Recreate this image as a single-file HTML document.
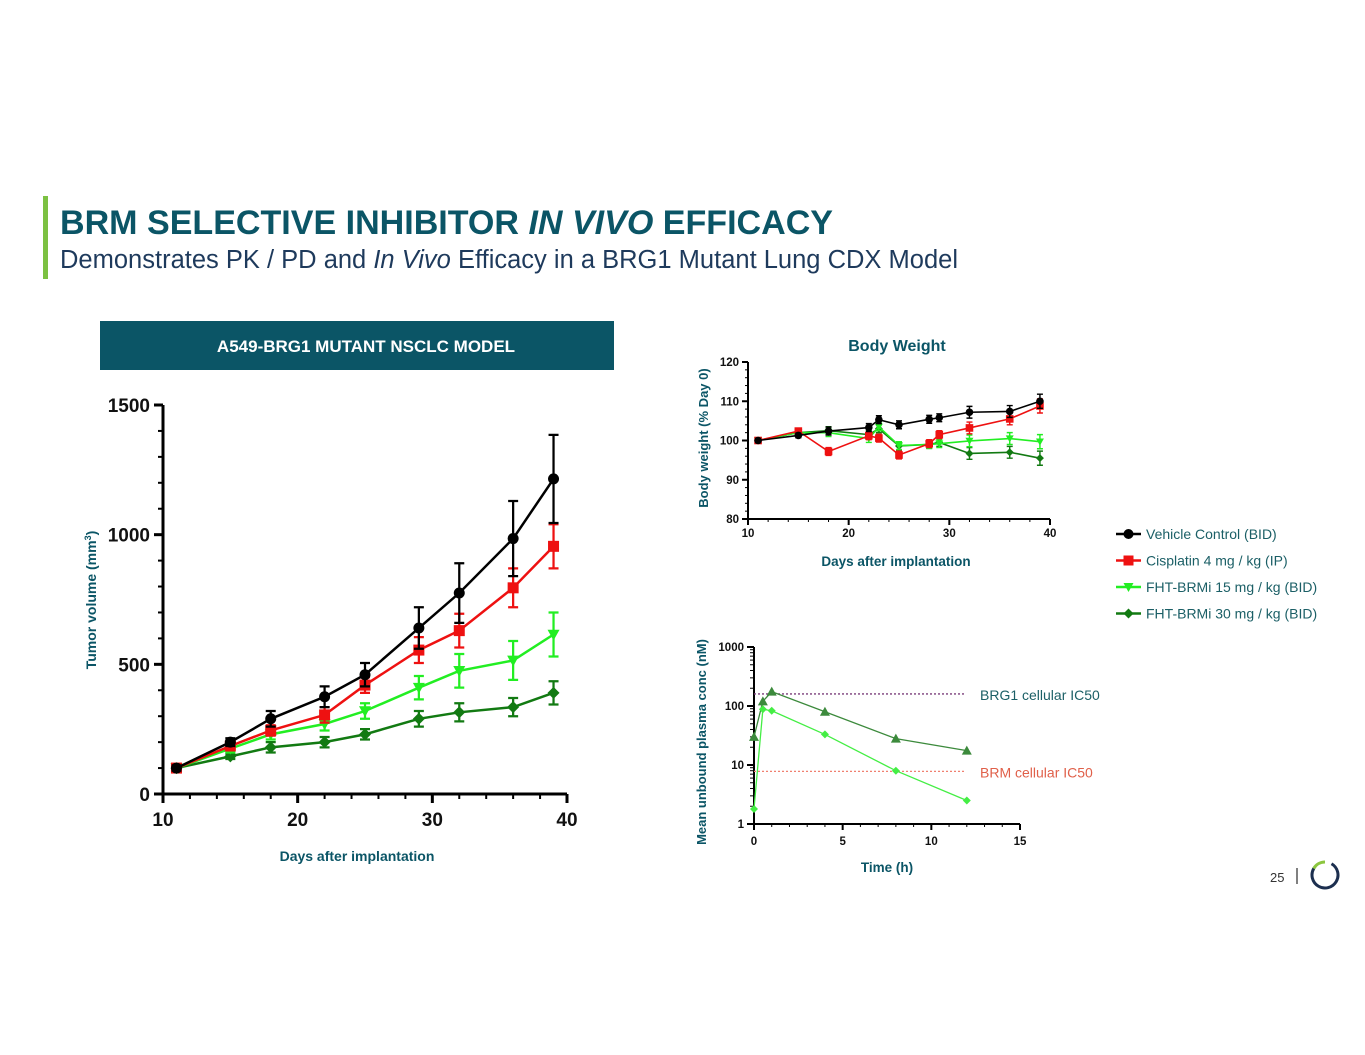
<!DOCTYPE html>
<html><head><meta charset="utf-8">
<style>
html,body{margin:0;padding:0;background:#fff;width:1365px;height:1055px;overflow:hidden;font-family:"Liberation Sans",sans-serif}
</style></head>
<body>
<svg id="s" width="1365" height="1055" xmlns="http://www.w3.org/2000/svg" font-family="Liberation Sans, sans-serif">
<rect x="43" y="196" width="5" height="83" fill="#7cc142"/>
<text x="60" y="234" font-size="34" font-weight="bold" fill="#0b5566" textLength="773" lengthAdjust="spacingAndGlyphs">BRM SELECTIVE INHIBITOR <tspan font-style="italic">IN VIVO</tspan> EFFICACY</text>
<text x="60" y="268" font-size="25.5" fill="#1e3a5c" textLength="898" lengthAdjust="spacingAndGlyphs">Demonstrates PK / PD and <tspan font-style="italic">In Vivo</tspan> Efficacy in a BRG1 Mutant Lung CDX Model</text>
<rect x="100" y="321" width="514" height="49" fill="#0b5566"/>
<text x="366" y="352" font-size="17" font-weight="bold" fill="#fff" text-anchor="middle">A549-BRG1 MUTANT NSCLC MODEL</text>
<g id="main"></g>
<g id="bw"></g>
<g id="pk"></g>
<g id="leg"></g>
<text x="1270" y="882" font-size="13" fill="#333">25</text>
<line x1="1297" y1="868" x2="1297" y2="884" stroke="#555" stroke-width="1.5"/>
<g>
<circle cx="1325" cy="875" r="13" fill="none" stroke="#1c2f4f" stroke-width="3" stroke-dasharray="62 20" transform="rotate(-60 1325 875)"/>
<path d="M1313.7 868.5 A13 13 0 0 1 1325 862" fill="none" stroke="#8cc63f" stroke-width="3"/>
</g>
</svg>
<script>
// ---- data: tumor volume ----
const tvDays=[11,15,18,22,25,29,32,36,39];
const tvVehicle=[100,200,290,375,460,640,775,985,1215];
const tvVehicleErr=[10,15,30,40,45,80,115,145,170];
const tvCis=[100,185,245,305,420,555,630,795,955];
const tvCisErr=[10,15,20,30,30,50,65,75,85];
const tv15=[100,175,230,270,320,410,475,515,615];
const tv15Err=[10,15,20,25,30,45,65,75,85];
const tv30=[100,145,180,200,230,290,315,335,390];
const tv30Err=[10,10,20,20,20,30,35,35,45];
const tvXTicks=[10,20,30,40];
const tvYTicks=[0,500,1000,1500];
// ---- data: body weight ----
const bwDays=[11,15,18,22,23,25,28,29,32,36,39];
const bwVehicle=[100,101.3,102.4,103.3,105.3,104,105.4,105.8,107.2,107.4,110];
const bwCis=[100,102.4,97.2,101.2,100.6,96.3,99.2,101.5,103.2,105.5,108.8];
const bw15=[100,102,102,100.5,103.5,98.7,99,99.2,99.9,100.5,99.7];
const bw30=[100,102,102.5,101.5,103,98.6,99,99.5,96.7,97,95.5];
const bwErr=[0.5,0.6,1,1,1,1,1,1,1.5,1.5,1.8];
const bwXTicks=[10,20,30,40];
const bwYTicks=[80,90,100,110,120];
// ---- data: PK ----
const pkTime=[0,0.5,1,4,8,12];
const pk30=[30,120,175,80,28,17.5];
const pk15=[1.8,88,83,33,8,2.5];
const pkXTicks=[0,5,10,15];
const pkYTicks=[1,10,100,1000];
const ic50BRG1=160, ic50BRM=7.8;

const NS='http://www.w3.org/2000/svg';
function el(parent,tag,attrs,text){const e=document.createElementNS(NS,tag);for(const k in attrs)e.setAttribute(k,attrs[k]);if(text!==undefined)e.textContent=text;parent.appendChild(e);return e;}
function marker(g,shape,x,y,r,color){
  let m;
  if(shape==='circle')m=el(g,'circle',{cx:x,cy:y,r:r,fill:color});
  else if(shape==='square')m=el(g,'rect',{x:x-r,y:y-r,width:2*r,height:2*r,fill:color});
  else if(shape==='tri-down')m=el(g,'polygon',{points:`${x-r},${y-r*0.8} ${x+r},${y-r*0.8} ${x},${y+r}`,fill:color});
  else if(shape==='tri-up')m=el(g,'polygon',{points:`${x-r},${y+r*0.8} ${x+r},${y+r*0.8} ${x},${y-r}`,fill:color});
  else m=el(g,'polygon',{points:`${x},${y-r} ${x+r},${y} ${x},${y+r} ${x-r},${y}`,fill:color});
  return m;
}
function series(g,name,xs,ys,errs,X,Y,color,shape,r,sw,cap){
  const sg=el(g,'g',{});
  
  
  el(sg,'polyline',{points:xs.map((x,i)=>X(x)+','+Y(ys[i])).join(' '),fill:'none',stroke:color,'stroke-width':sw});
  xs.forEach((x,i)=>{
    if(errs){const cx=X(x),t=Y(ys[i]+errs[i]),b=Y(ys[i]-errs[i]);
      el(sg,'path',{d:`M${cx},${t}V${b}M${cx-cap},${t}H${cx+cap}M${cx-cap},${b}H${cx+cap}`,stroke:color,'stroke-width':sw*0.9,fill:'none'});}
    const m=marker(sg,shape,X(x),Y(ys[i]),r,color);
    
    
  });
}
const BLK='#000',RED='#ee1111',LG='#22ee22',DG='#127a12',TEAL='#0b5566';

// ---- main chart ----
(function(){
 const g=document.getElementById('main');
 const X=d=>163+(d-10)*(567-163)/30, Y=v=>794-v*(794-405)/1500;
 el(g,'path',{d:'M163,405V794H567',stroke:'#000','stroke-width':3,fill:'none'});
 for(let v=0;v<=1500;v+=100){const big=v%500===0;el(g,'line',{x1:big?154:158,x2:163,y1:Y(v),y2:Y(v),stroke:'#000','stroke-width':big?3:2});}
 for(let d=10;d<=40;d+=2){const big=d%10===0;el(g,'line',{x1:X(d),x2:X(d),y1:794,y2:big?803:799,stroke:'#000','stroke-width':big?3:2});}
 tvYTicks.forEach(v=>{const t=el(g,'text',{x:150,y:Y(v)+7,'font-size':19,'font-weight':'bold','text-anchor':'end',fill:'#111'},v);});
 tvXTicks.forEach(v=>{const t=el(g,'text',{x:X(v),y:826,'font-size':19,'font-weight':'bold','text-anchor':'middle',fill:'#111'},v);});
 const yt=el(g,'text',{x:0,y:0,'font-size':14,'font-weight':'bold',fill:TEAL,'text-anchor':'middle',transform:'translate(96,600) rotate(-90)'});
 yt.innerHTML='Tumor volume (mm<tspan baseline-shift="super" font-size="9">3</tspan>)';
 
 const xt=el(g,'text',{x:357,y:861,'font-size':14,'font-weight':'bold',fill:TEAL,'text-anchor':'middle'},'Days after implantation');
 
 series(g,'series-fht-30',tvDays,tv30,tv30Err,X,Y,DG,'diamond',6,2.5,5);
 series(g,'series-fht-15',tvDays,tv15,tv15Err,X,Y,LG,'tri-down',6,2.5,5);
 series(g,'series-cisplatin',tvDays,tvCis,tvCisErr,X,Y,RED,'square',5.5,2.5,5);
 series(g,'series-vehicle',tvDays,tvVehicle,tvVehicleErr,X,Y,BLK,'circle',5.5,2.5,5);
})();

// ---- body weight ----
(function(){
 const g=document.getElementById('bw');
 const X=d=>748+(d-10)*(1050-748)/30, Y=v=>519-(v-80)*(519-362)/40;
 el(g,'text',{x:897,y:351,'font-size':16,'font-weight':'bold',fill:TEAL,'text-anchor':'middle'},'Body Weight');
 el(g,'path',{d:'M748,362V519H1050',stroke:'#000','stroke-width':2,fill:'none'});
 for(let v=80;v<=120;v+=2){const big=v%10===0;el(g,'line',{x1:big?742:745,x2:748,y1:Y(v),y2:Y(v),stroke:'#000','stroke-width':big?2:1});}
 for(let d=10;d<=40;d+=2){const big=d%10===0;el(g,'line',{x1:X(d),x2:X(d),y1:519,y2:big?525:522,stroke:'#000','stroke-width':big?2:1});}
 bwYTicks.forEach(v=>{const t=el(g,'text',{x:739,y:Y(v)+4,'font-size':11.5,'font-weight':'bold','text-anchor':'end',fill:'#111'},v);});
 bwXTicks.forEach(v=>{const t=el(g,'text',{x:X(v),y:537,'font-size':11.5,'font-weight':'bold','text-anchor':'middle',fill:'#111'},v);});
 const yt=el(g,'text',{x:0,y:0,'font-size':13,'font-weight':'bold',fill:TEAL,'text-anchor':'middle',transform:'translate(708,438) rotate(-90)'},'Body weight (% Day 0)');
 
 const xt=el(g,'text',{x:896,y:566,'font-size':13.5,'font-weight':'bold',fill:TEAL,'text-anchor':'middle'},'Days after implantation');
 
 series(g,'bw-fht-30',bwDays,bw30,bwErr,X,Y,DG,'diamond',4,1.6,3);
 series(g,'bw-fht-15',bwDays,bw15,bwErr,X,Y,LG,'tri-down',4,1.6,3);
 series(g,'bw-cisplatin',bwDays,bwCis,bwErr,X,Y,RED,'square',3.8,1.6,3);
 series(g,'bw-vehicle',bwDays,bwVehicle,bwErr,X,Y,BLK,'circle',3.8,1.6,3);
})();

// ---- PK ----
(function(){
 const g=document.getElementById('pk');
 const X=t=>754+t*(1020-754)/15, Y=c=>824-Math.log10(c)*(824-647)/3;
 el(g,'path',{d:'M754,647V824H1020',stroke:'#000','stroke-width':2,fill:'none'});
 for(let dec=0;dec<3;dec++)for(let k=1;k<=10;k++){const v=k*Math.pow(10,dec);const big=k===1||k===10;el(g,'line',{x1:big?747:750,x2:754,y1:Y(v),y2:Y(v),stroke:'#000','stroke-width':big?2:1});}
 for(let t=0;t<=15;t++){const big=t%5===0;el(g,'line',{x1:X(t),x2:X(t),y1:824,y2:big?830:827,stroke:'#000','stroke-width':big?2:1});}
 pkYTicks.forEach(v=>{const t=el(g,'text',{x:744,y:Y(v)+4,'font-size':11.5,'font-weight':'bold','text-anchor':'end',fill:'#111'},v);});
 pkXTicks.forEach(v=>{const t=el(g,'text',{x:X(v),y:845,'font-size':11.5,'font-weight':'bold','text-anchor':'middle',fill:'#111'},v);});
 const yt=el(g,'text',{x:0,y:0,'font-size':13,'font-weight':'bold',fill:TEAL,'text-anchor':'middle',transform:'translate(706,742) rotate(-90)'},'Mean unbound plasma conc (nM)');
 
 const xt=el(g,'text',{x:887,y:872,'font-size':13.5,'font-weight':'bold',fill:TEAL,'text-anchor':'middle'},'Time (h)');
 
 const l1=el(g,'line',{x1:754,x2:966,y1:Y(ic50BRG1),y2:Y(ic50BRG1),stroke:'#7a3d7a','stroke-width':1.3,'stroke-dasharray':'2 2'});
 
 const l2=el(g,'line',{x1:754,x2:966,y1:Y(ic50BRM),y2:Y(ic50BRM),stroke:'#f08070','stroke-width':1.3,'stroke-dasharray':'2 2'});
 
 el(g,'text',{x:980,y:Y(ic50BRG1)+6,'font-size':14,fill:'#1b5f66'},'BRG1 cellular IC50');
 el(g,'text',{x:980,y:Y(ic50BRM)+6,'font-size':14,fill:'#e0604a'},'BRM cellular IC50');
 series(g,'pk-30mg',pkTime,pk30,null,X,Y,'#3c8a3c','tri-up',5,1.3,0);
 series(g,'pk-15mg',pkTime,pk15,null,X,Y,'#44ee44','diamond',4,1.3,0);
})();

// ---- legend ----
(function(){
 const g=document.getElementById('leg');
 const names=['Vehicle Control (BID)','Cisplatin 4 mg / kg (IP)','FHT-BRMi 15 mg / kg (BID)','FHT-BRMi 30 mg / kg (BID)'];
 const cols=[BLK,RED,LG,DG], shapes=['circle','square','tri-down','diamond'];
 names.forEach((n,i)=>{
  const y=534+i*26.5;
  const e=el(g,'g',{});
  
  
  el(e,'line',{x1:1116,x2:1141,y1:y,y2:y,stroke:cols[i],'stroke-width':2.5});
  marker(e,shapes[i],1128.5,y,5,cols[i]);
  el(e,'text',{x:1146,y:y+5,'font-size':14,fill:'#1b5f66'},n);
 });
})();
</script>
</body></html>
